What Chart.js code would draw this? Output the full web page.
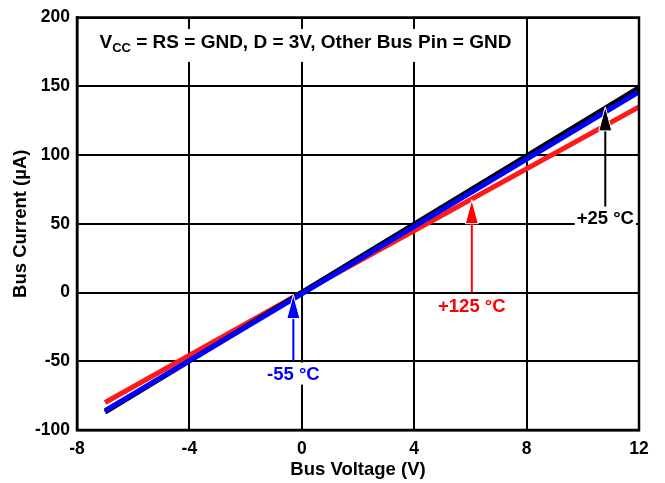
<!DOCTYPE html>
<html>
<head>
<meta charset="utf-8">
<script src="https://cdn.jsdelivr.net/npm/chart.js@4/dist/chart.umd.min.js"></script>
<style>
  body { margin: 0; background: #fff; }
  #wrap { width: 665px; height: 483px; position: relative; }
</style>
</head>
<body>
<div id="wrap"><canvas id="busChart"></canvas></div>
<script>
// bus current vs bus voltage, one line per temperature
const voltage = [-7, 0, 12];
const currentMinus55 = [-86, -1, 146];
const current25 = [-87, 0, 149];
const current125 = [-80, 0, 135];

// arrow callouts (data coordinates)
const calloutText = ["-55 °C", "+125 °C", "+25 °C"];
const calloutColor = ["#0000ff", "#ff0000", "#000000"];
const calloutX = [-0.3, 6.05, 10.8];
const calloutTip = [-1.5, 67.5, 135];
const calloutBase = [-50, 0, 60];
const calloutLabelY = [-59, -10, 54.5];

const FONT = "'Liberation Sans', Arial, sans-serif";

const toPoints = (ys) => voltage.map((v, i) => ({ x: v, y: ys[i] }));

// condition text + arrows + frame around the plot
const decorations = {
  id: "decorations",
  afterDatasetsDraw(chart) {
    const { ctx, chartArea } = chart;
    const xs = chart.scales.x;
    const ys = chart.scales.y;
    ctx.save();

    // condition text box
    const tx = xs.getPixelForValue(-7.2);
    const ty = ys.getPixelForValue(181.5);
    ctx.textBaseline = "middle";
    ctx.font = "bold 19px " + FONT;
    const wV = ctx.measureText("V").width;
    ctx.font = "bold 13px " + FONT;
    const wCC = ctx.measureText("CC").width;
    ctx.font = "bold 19px " + FONT;
    const rest = " = RS = GND, D = 3V, Other Bus Pin = GND";
    const wRest = ctx.measureText(rest).width;
    ctx.fillStyle = "#fff";
    ctx.fillRect(tx - 6, ty - 14, wV + wCC + wRest + 12, 33);
    ctx.fillStyle = "#000";
    ctx.textAlign = "left";
    ctx.fillText("V", tx, ty);
    ctx.font = "bold 13px " + FONT;
    ctx.fillText("CC", tx + wV, ty + 5);
    ctx.font = "bold 19px " + FONT;
    ctx.fillText(rest, tx + wV + wCC, ty);

    // arrows
    calloutText.forEach((label, i) => {
      const px = xs.getPixelForValue(calloutX[i]);
      const tip = ys.getPixelForValue(calloutTip[i]);
      const base = ys.getPixelForValue(calloutBase[i]);
      const headLen = 24;
      const headW = 6.5;
      ctx.strokeStyle = calloutColor[i];
      ctx.lineWidth = 2;
      ctx.beginPath();
      ctx.moveTo(px, base);
      ctx.lineTo(px, tip + headLen - 2);
      ctx.stroke();
      ctx.beginPath();
      ctx.moveTo(px, tip);
      ctx.lineTo(px - headW, tip + headLen);
      ctx.lineTo(px + headW, tip + headLen);
      ctx.closePath();
      ctx.fillStyle = calloutColor[i];
      ctx.fill();
      ctx.strokeStyle = "#fff";
      ctx.lineWidth = 1;
      ctx.stroke();

      const ly = ys.getPixelForValue(calloutLabelY[i]);
      ctx.font = "bold 18.5px " + FONT;
      const w = ctx.measureText(label).width;
      ctx.fillStyle = "#fff";
      ctx.fillRect(px - w / 2 - 2, ly - 11, w + 4, 22);
      ctx.fillStyle = calloutColor[i];
      ctx.textAlign = "center";
      ctx.fillText(label, px, ly + 1);
    });

    // frame last so the label boxes can't cut it
    ctx.strokeStyle = "#000";
    ctx.lineWidth = 2.5;
    ctx.strokeRect(chartArea.left, chartArea.top, chartArea.right - chartArea.left, chartArea.bottom - chartArea.top);
    ctx.restore();
  }
};

const ctx = document.getElementById("busChart");

new Chart(ctx, {
  type: "scatter",
  data: {
    datasets: [
      { label: "-55 °C", data: toPoints(currentMinus55), borderColor: "#0000ff" },
      { label: "+25 °C", data: toPoints(current25), borderColor: "#000000" },
      { label: "+125 °C", data: toPoints(current125), borderColor: "#ff1a1a" }
    ].map(ds => Object.assign(ds, {
      showLine: true,
      borderWidth: 5,
      borderCapStyle: "butt",
      pointRadius: 0,
      fill: false
    }))
  },
  options: {
    responsive: true,
    maintainAspectRatio: false,
    animation: false,
    layout: { padding: { top: 13, right: 26, left: 0, bottom: 0 } },
    plugins: {
      legend: { display: false },
      tooltip: { enabled: false }
    },
    scales: {
      x: {
        type: "linear",
        min: -8,
        max: 12,
        afterFit: (scale) => { scale.height = 53; },
        ticks: {
          stepSize: 4,
          color: "#000",
          padding: 9,
          font: { family: FONT, size: 17.5, weight: "bold" }
        },
        grid: { color: "#000", lineWidth: 2, drawTicks: false },
        border: { color: "#000", width: 2.5 },
        title: {
          display: true,
          text: "Bus Voltage (V)",
          color: "#000",
          padding: { top: 0, bottom: 2 },
          font: { family: FONT, size: 18.5, weight: "bold" }
        }
      },
      y: {
        min: -100,
        max: 200,
        afterFit: (scale) => { scale.width = 77; },
        ticks: {
          stepSize: 50,
          color: "#000",
          padding: 7,
          font: { family: FONT, size: 17.5, weight: "bold" }
        },
        grid: { color: "#000", lineWidth: 2, drawTicks: false },
        border: { color: "#000", width: 2.5 },
        title: {
          display: true,
          text: "Bus Current (µA)",
          color: "#000",
          padding: { top: 10, bottom: 0 },
          font: { family: FONT, size: 18.5, weight: "bold" }
        }
      }
    }
  },
  plugins: [decorations]
});
</script>
</body>
</html>
